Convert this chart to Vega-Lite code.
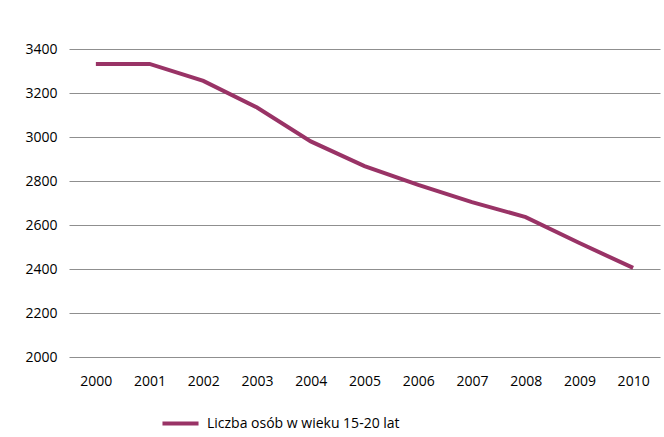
{
  "$schema": "https://vega.github.io/schema/vega-lite/v6.json",
  "width": 591,
  "height": 308,
  "autosize": {"type": "none"},
  "padding": {"left": 69, "top": 49, "right": 4, "bottom": 80},
  "background": "white",
  "config": {
    "view": {"stroke": null},
    "font": "Open Sans",
    "axis": {"labelFont": "Open Sans", "labelFontSize": 14, "labelColor": "#000000"}
  },
  "data": {
    "values": [
      {"year": "2000", "value": 3332, "series": "Liczba osób w wieku 15-20 lat"},
      {"year": "2001", "value": 3332, "series": "Liczba osób w wieku 15-20 lat"},
      {"year": "2002", "value": 3255, "series": "Liczba osób w wieku 15-20 lat"},
      {"year": "2003", "value": 3134, "series": "Liczba osób w wieku 15-20 lat"},
      {"year": "2004", "value": 2980, "series": "Liczba osób w wieku 15-20 lat"},
      {"year": "2005", "value": 2868, "series": "Liczba osób w wieku 15-20 lat"},
      {"year": "2006", "value": 2782, "series": "Liczba osób w wieku 15-20 lat"},
      {"year": "2007", "value": 2704, "series": "Liczba osób w wieku 15-20 lat"},
      {"year": "2008", "value": 2636, "series": "Liczba osób w wieku 15-20 lat"},
      {"year": "2009", "value": 2518, "series": "Liczba osób w wieku 15-20 lat"},
      {"year": "2010", "value": 2405, "series": "Liczba osób w wieku 15-20 lat"}
    ]
  },
  "mark": {"type": "line", "strokeWidth": 4, "strokeCap": "butt"},
  "encoding": {
    "x": {
      "field": "year", "type": "ordinal",
      "scale": {"type": "point", "padding": 0.5},
      "axis": {"title": null, "labelAngle": 0, "ticks": false, "domain": false, "labelPadding": 17, "grid": false}
    },
    "y": {
      "field": "value", "type": "quantitative",
      "scale": {"domain": [2000, 3400], "nice": false, "zero": false},
      "axis": {"title": null, "values": [2000, 2200, 2400, 2600, 2800, 3000, 3200, 3400], "ticks": false, "domain": false, "labelPadding": 12, "gridColor": "#8f8f8f", "gridWidth": 1, "format": "d"}
    },
    "color": {
      "field": "series", "type": "nominal",
      "scale": {"range": ["#993366"]},
      "legend": {
        "title": null, "orient": "none", "legendX": 91, "legendY": 354,
        "symbolType": "stroke", "symbolSize": 1300, "symbolStrokeWidth": 4,
        "labelFont": "Open Sans", "labelFontSize": 14, "labelColor": "#000000", "labelOffset": 6, "labelLimit": 0
      }
    }
  }
}
